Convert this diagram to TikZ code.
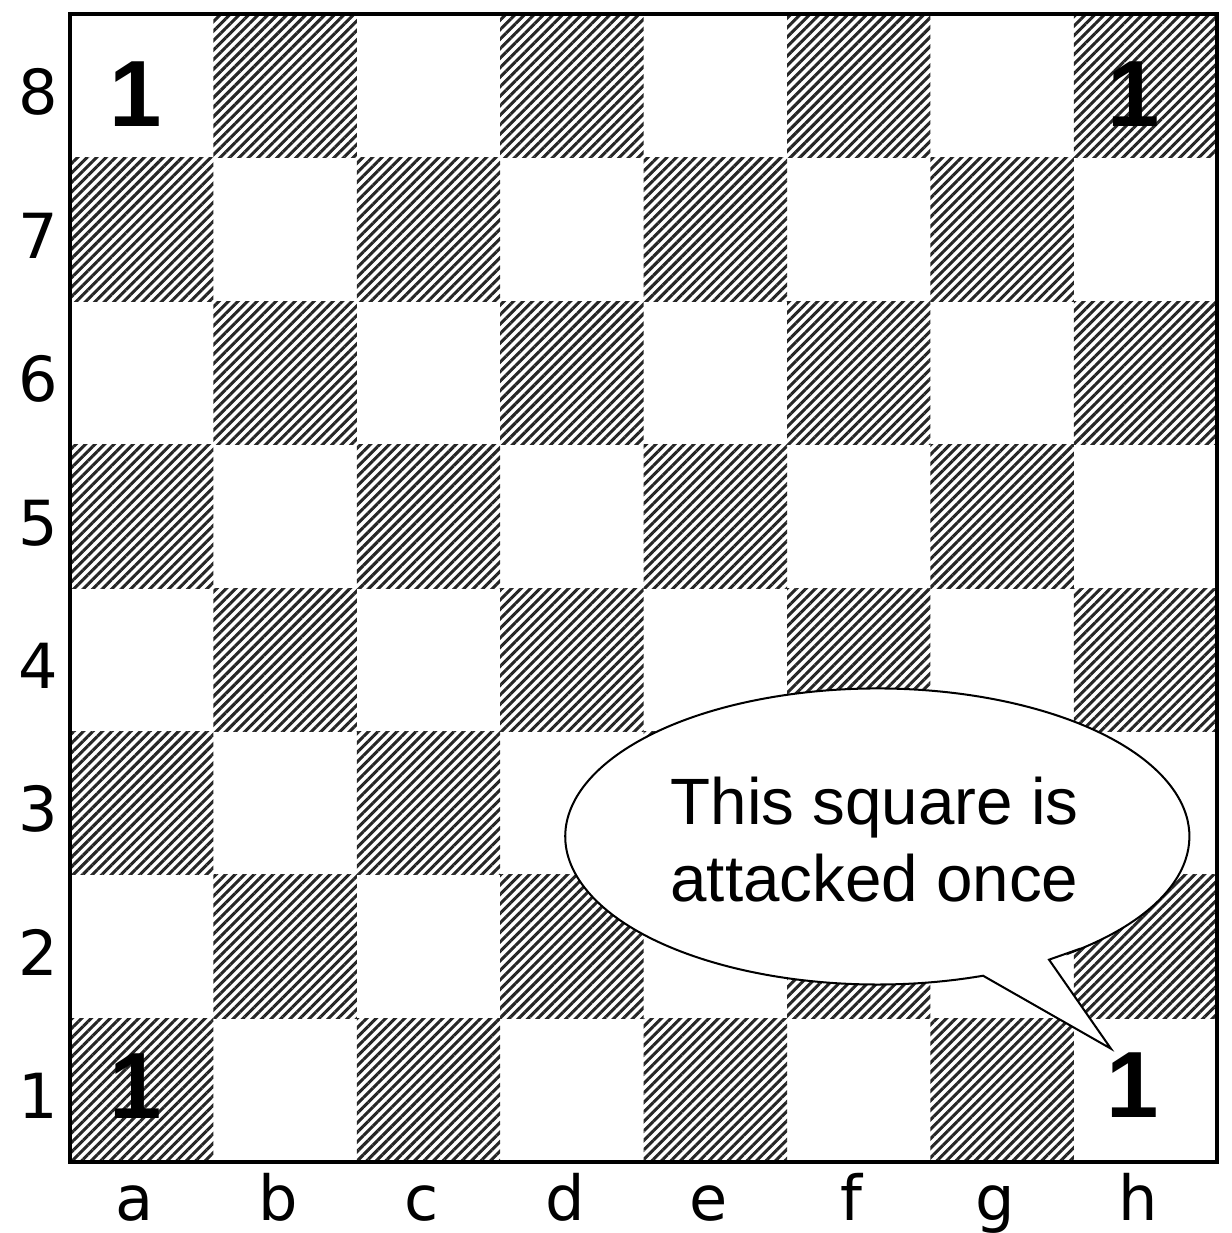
\documentclass[tikz,border=0pt]{standalone}
\usepackage{fontspec}
\setmainfont{Liberation Sans}
\newfontfamily\coordfont{DejaVu Sans}
\usetikzlibrary{patterns.meta}

\begin{document}
\begin{tikzpicture}[x=1.5cm, y=1.5cm,
    escura/.style={pattern={Lines[angle=45, distance=2pt, line width=0.9pt]}, pattern color=black!85},
    coord/.style={font=\coordfont\fontsize{18.5}{18.5}\selectfont, anchor=base, inner sep=0pt},
    conta/.style={font=\fontsize{28}{28}\selectfont\bfseries, anchor=base, inner sep=0pt},
    balao/.style={draw, fill=white, line width=0.6pt}]

\useasboundingbox (-0.488,-0.497) rectangle (8.096,8.101);

% dark squares (a1 is dark)
\foreach \j in {0,...,7}
  \foreach \i in {0,...,7} {
    \ifodd\numexpr\i+\j\relax\else
      \fill[escura] (\i,\j) rectangle ++(1,1);
    \fi
  }

% board frame
\draw[line width=1.2pt] (0,0) rectangle (8,8);

% ranks and files
\foreach \r in {1,...,8}
  \node[coord] (rank\r) at (-0.22, \r-0.70) {\r};
\foreach \f [count=\c from 0] in {a,...,h}
  \node[coord] (file\f) at (\c+0.45, -0.41) {\f};

% attack counts
\node[conta] (a8n) at (0.46,7.218) {1};
\node[conta] (h8n) at (7.42,7.218) {1};
\node[conta] (a1n) at (0.46,0.300) {1};
\node[conta] (h1n) at (7.41,0.307) {1};

% speech bubble
\coordinate (tip) at (7.259,0.788);
\coordinate (baseL) at (6.367,1.297);
\coordinate (baseR) at (6.827,1.409);
\coordinate (joinR) at (7.003,1.471);
\draw[balao] (joinR) -- (baseR) -- (tip) -- (baseL)
  arc[start angle=-70.2, end angle=-411.2, x radius=2.176, y radius=1.032] -- cycle;
\node[font=\fontsize{19.5}{23}\selectfont, align=center] (aviso) at (5.61,2.245) {This square is\\attacked once};
\end{tikzpicture}
\end{document}
